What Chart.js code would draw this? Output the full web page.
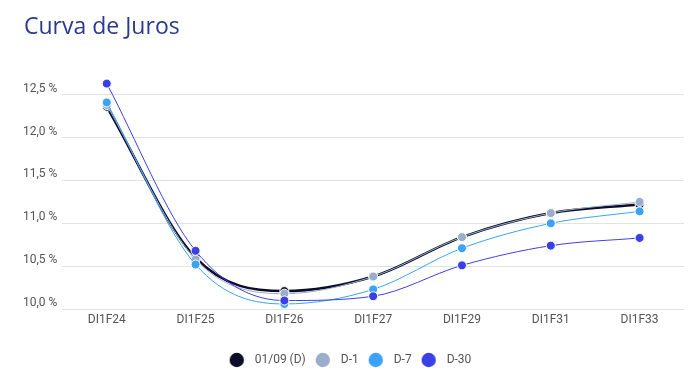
<html lang="pt">
<head>
    <meta charset="UTF-8">
    <title>Curva de Juros</title>
    <script src="https://cdn.jsdelivr.net/npm/chart.js"></script>
    <style>
        html, body { margin: 0; padding: 0; background: #fff; }
        #wrap { width: 690px; height: 372px; }
    </style>
</head>
<body>
    <div id="wrap"><canvas id="myChart"></canvas></div>
    <script>
        const labels = ['DI1F24', 'DI1F25', 'DI1F26', 'DI1F27', 'DI1F29', 'DI1F31', 'DI1F33'];
        const serieD = [12.36, 10.60, 10.21, 10.38, 10.84, 11.12, 11.22];
        const serieD1 = [12.38, 10.58, 10.18, 10.38, 10.84, 11.12, 11.25];
        const serieD7 = [12.41, 10.52, 10.06, 10.23, 10.71, 11.00, 11.14];
        const serieD30 = [12.63, 10.68, 10.10, 10.15, 10.51, 10.74, 10.83];

        function serie(label, data, color, width, order) {
            return {
                label: label,
                data: data,
                borderColor: color,
                backgroundColor: color,
                pointBackgroundColor: color,
                pointBorderColor: '#fff',
                pointBorderWidth: 1,
                pointRadius: 4.5,
                borderWidth: width,
                cubicInterpolationMode: 'monotone',
                order: order
            };
        }

        // legend marker: circle shifted left inside a wider canvas so the text sits further away
        function marker(color) {
            const c = document.createElement('canvas');
            c.width = 28;
            c.height = 16;
            const g = c.getContext('2d');
            g.fillStyle = color;
            g.beginPath();
            g.arc(8, 8, 7.2, 0, Math.PI * 2);
            g.fill();
            return c;
        }

        const config = {
            type: 'line',
            data: {
                labels: labels,
                datasets: [
                    serie('01/09 (D)', serieD, '#0b0d2a', 2.5, 3),
                    serie('D-1', serieD1, '#9aaecb', 1, 2),
                    serie('D-7', serieD7, '#3aa3f7', 1, 1),
                    serie('D-30', serieD30, '#3b40e6', 1, 0)
                ]
            },
            options: {
                responsive: true,
                maintainAspectRatio: false,
                animation: false,
                layout: { padding: { left: 24, right: 6, top: 0, bottom: -4 } },
                plugins: {
                    title: {
                        display: true,
                        text: 'Curva de Juros',
                        align: 'start',
                        color: '#2b3a8f',
                        font: { family: 'Open Sans', size: 23, weight: 'normal' },
                        padding: { top: 14, bottom: 36 }
                    },
                    legend: {
                        position: 'bottom',
                        labels: {
                            usePointStyle: true,
                            boxWidth: 12,
                            boxHeight: 12,
                            padding: 17,
                            color: '#555',
                            font: { family: 'Roboto', size: 12 },
                            sort: (a, b) => a.datasetIndex - b.datasetIndex,
                            generateLabels: (chart) => {
                                const items = Chart.defaults.plugins.legend.labels.generateLabels(chart);
                                items.forEach(it => {
                                    it.pointStyle = marker(chart.data.datasets[it.datasetIndex].borderColor);
                                });
                                return items;
                            }
                        }
                    }
                },
                scales: {
                    x: {
                        offset: true,
                        grid: { display: false, drawTicks: false },
                        border: { display: false },
                        ticks: { padding: 4, color: '#555', font: { family: 'Roboto', size: 12 } },
                        afterFit: (axis) => { axis.height += 5.5; }
                    },
                    y: {
                        min: 10,
                        max: 12.7,
                        border: { display: false },
                        grid: { color: '#e3e3e3', drawTicks: false },
                        afterBuildTicks: (axis) => {
                            axis.ticks = axis.ticks.filter(t => Math.abs(t.value * 2 - Math.round(t.value * 2)) < 1e-6);
                        },
                        afterFit: (axis) => { axis.width -= 6; },
                        ticks: {
                            stepSize: 0.5,
                            padding: 5,
                            labelOffset: -6,
                            color: '#555',
                            font: { family: 'Roboto', size: 12 },
                            callback: (v) => v.toFixed(1).replace('.', ',') + ' %'
                        }
                    }
                }
            }
        };

        new Chart(document.getElementById('myChart'), config);
    </script>
</body>
</html>
